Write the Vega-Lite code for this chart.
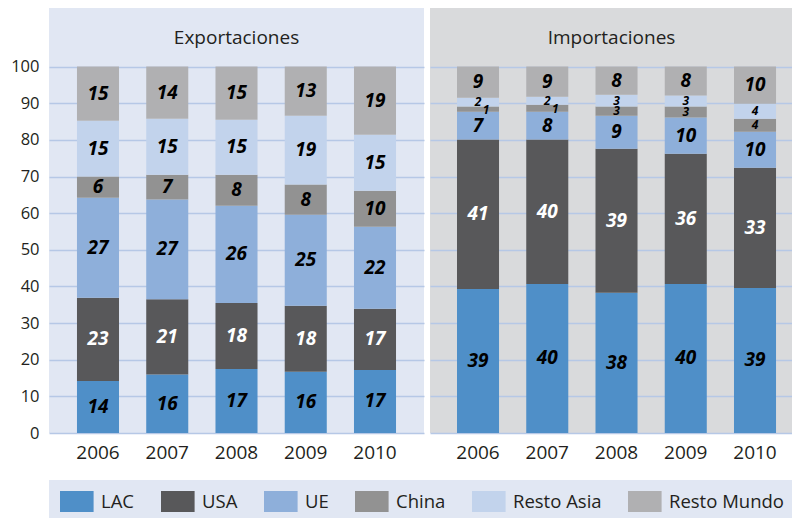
{
  "$schema": "https://vega.github.io/schema/vega-lite/v6.json",
  "background": "white",
  "padding": {"left": 10, "top": 8, "right": 0, "bottom": 0},
  "spacing": 6,
  "config": {
    "view": {"stroke": null},
    "font": "Open Sans",
    "axis": {"labelFont": "Open Sans", "labelColor": "#231F20"}
  },
  "data": {
    "values": [
      {"flujo": "Exportaciones", "anio": "2006", "region": "LAC", "v": 14.2, "lab": "14"},
      {"flujo": "Exportaciones", "anio": "2006", "region": "USA", "v": 22.7, "lab": "23"},
      {"flujo": "Exportaciones", "anio": "2006", "region": "UE", "v": 27.3, "lab": "27"},
      {"flujo": "Exportaciones", "anio": "2006", "region": "China", "v": 5.8, "lab": "6"},
      {"flujo": "Exportaciones", "anio": "2006", "region": "Resto Asia", "v": 15.2, "lab": "15"},
      {"flujo": "Exportaciones", "anio": "2006", "region": "Resto Mundo", "v": 14.8, "lab": "15"},
      {"flujo": "Exportaciones", "anio": "2007", "region": "LAC", "v": 16.0, "lab": "16"},
      {"flujo": "Exportaciones", "anio": "2007", "region": "USA", "v": 20.5, "lab": "21"},
      {"flujo": "Exportaciones", "anio": "2007", "region": "UE", "v": 27.2, "lab": "27"},
      {"flujo": "Exportaciones", "anio": "2007", "region": "China", "v": 6.8, "lab": "7"},
      {"flujo": "Exportaciones", "anio": "2007", "region": "Resto Asia", "v": 15.3, "lab": "15"},
      {"flujo": "Exportaciones", "anio": "2007", "region": "Resto Mundo", "v": 14.2, "lab": "14"},
      {"flujo": "Exportaciones", "anio": "2008", "region": "LAC", "v": 17.5, "lab": "17"},
      {"flujo": "Exportaciones", "anio": "2008", "region": "USA", "v": 18.0, "lab": "18"},
      {"flujo": "Exportaciones", "anio": "2008", "region": "UE", "v": 26.5, "lab": "26"},
      {"flujo": "Exportaciones", "anio": "2008", "region": "China", "v": 8.5, "lab": "8"},
      {"flujo": "Exportaciones", "anio": "2008", "region": "Resto Asia", "v": 15.0, "lab": "15"},
      {"flujo": "Exportaciones", "anio": "2008", "region": "Resto Mundo", "v": 14.5, "lab": "15"},
      {"flujo": "Exportaciones", "anio": "2009", "region": "LAC", "v": 16.7, "lab": "16"},
      {"flujo": "Exportaciones", "anio": "2009", "region": "USA", "v": 18.0, "lab": "18"},
      {"flujo": "Exportaciones", "anio": "2009", "region": "UE", "v": 24.9, "lab": "25"},
      {"flujo": "Exportaciones", "anio": "2009", "region": "China", "v": 8.2, "lab": "8"},
      {"flujo": "Exportaciones", "anio": "2009", "region": "Resto Asia", "v": 18.8, "lab": "19"},
      {"flujo": "Exportaciones", "anio": "2009", "region": "Resto Mundo", "v": 13.4, "lab": "13"},
      {"flujo": "Exportaciones", "anio": "2010", "region": "LAC", "v": 17.2, "lab": "17"},
      {"flujo": "Exportaciones", "anio": "2010", "region": "USA", "v": 16.7, "lab": "17"},
      {"flujo": "Exportaciones", "anio": "2010", "region": "UE", "v": 22.4, "lab": "22"},
      {"flujo": "Exportaciones", "anio": "2010", "region": "China", "v": 9.8, "lab": "10"},
      {"flujo": "Exportaciones", "anio": "2010", "region": "Resto Asia", "v": 15.3, "lab": "15"},
      {"flujo": "Exportaciones", "anio": "2010", "region": "Resto Mundo", "v": 18.6, "lab": "19"},
      {"flujo": "Importaciones", "anio": "2006", "region": "LAC", "v": 39.3, "lab": "39"},
      {"flujo": "Importaciones", "anio": "2006", "region": "USA", "v": 40.8, "lab": "41"},
      {"flujo": "Importaciones", "anio": "2006", "region": "UE", "v": 7.6, "lab": "7"},
      {"flujo": "Importaciones", "anio": "2006", "region": "China", "v": 1.4, "lab": "1"},
      {"flujo": "Importaciones", "anio": "2006", "region": "Resto Asia", "v": 2.4, "lab": "2"},
      {"flujo": "Importaciones", "anio": "2006", "region": "Resto Mundo", "v": 8.5, "lab": "9"},
      {"flujo": "Importaciones", "anio": "2007", "region": "LAC", "v": 40.7, "lab": "40"},
      {"flujo": "Importaciones", "anio": "2007", "region": "USA", "v": 39.4, "lab": "40"},
      {"flujo": "Importaciones", "anio": "2007", "region": "UE", "v": 7.6, "lab": "8"},
      {"flujo": "Importaciones", "anio": "2007", "region": "China", "v": 1.9, "lab": "1"},
      {"flujo": "Importaciones", "anio": "2007", "region": "Resto Asia", "v": 2.2, "lab": "2"},
      {"flujo": "Importaciones", "anio": "2007", "region": "Resto Mundo", "v": 8.2, "lab": "9"},
      {"flujo": "Importaciones", "anio": "2008", "region": "LAC", "v": 38.3, "lab": "38"},
      {"flujo": "Importaciones", "anio": "2008", "region": "USA", "v": 39.3, "lab": "39"},
      {"flujo": "Importaciones", "anio": "2008", "region": "UE", "v": 9.0, "lab": "9"},
      {"flujo": "Importaciones", "anio": "2008", "region": "China", "v": 2.5, "lab": "3"},
      {"flujo": "Importaciones", "anio": "2008", "region": "Resto Asia", "v": 3.2, "lab": "3"},
      {"flujo": "Importaciones", "anio": "2008", "region": "Resto Mundo", "v": 7.7, "lab": "8"},
      {"flujo": "Importaciones", "anio": "2009", "region": "LAC", "v": 40.7, "lab": "40"},
      {"flujo": "Importaciones", "anio": "2009", "region": "USA", "v": 35.5, "lab": "36"},
      {"flujo": "Importaciones", "anio": "2009", "region": "UE", "v": 9.9, "lab": "10"},
      {"flujo": "Importaciones", "anio": "2009", "region": "China", "v": 3.0, "lab": "3"},
      {"flujo": "Importaciones", "anio": "2009", "region": "Resto Asia", "v": 3.0, "lab": "3"},
      {"flujo": "Importaciones", "anio": "2009", "region": "Resto Mundo", "v": 7.9, "lab": "8"},
      {"flujo": "Importaciones", "anio": "2010", "region": "LAC", "v": 39.6, "lab": "39"},
      {"flujo": "Importaciones", "anio": "2010", "region": "USA", "v": 32.8, "lab": "33"},
      {"flujo": "Importaciones", "anio": "2010", "region": "UE", "v": 9.8, "lab": "10"},
      {"flujo": "Importaciones", "anio": "2010", "region": "China", "v": 3.6, "lab": "4"},
      {"flujo": "Importaciones", "anio": "2010", "region": "Resto Asia", "v": 4.1, "lab": "4"},
      {"flujo": "Importaciones", "anio": "2010", "region": "Resto Mundo", "v": 10.1, "lab": "10"}
    ]
  },
  "resolve": {"scale": {"x": "independent", "y": "independent", "color": "shared"}},
  "hconcat": [
    {
      "width": 375,
      "height": 425,
      "view": {"fill": "#E1E7F3", "stroke": null},
      "title": {"text": "Exportaciones", "offset": -49, "baseline": "middle", "fontSize": 19, "fontWeight": "normal", "color": "#231F20", "font": "Open Sans"},
      "transform": [
        {"filter": "datum.flujo === 'Exportaciones'"},
        {"calculate": "indexof(['LAC','USA','UE','China','Resto Asia','Resto Mundo'], datum.region)", "as": "ord"},
        {"stack": "v", "groupby": ["anio"], "sort": [{"field": "ord", "order": "ascending"}], "as": ["v0", "v1"]},
        {"calculate": "(datum.v0 + datum.v1) / 2", "as": "mid"}
      ],
      "encoding": {
        "x": {
          "field": "anio", "type": "ordinal",
          "scale": {"paddingInner": 0.393, "paddingOuter": 0.404},
          "axis": {"title": null, "labelAngle": 0, "ticks": false, "domain": false, "labelFontSize": 19, "labelPadding": 10, "grid": false}
        }
      },
      "layer": [
        {
          "mark": {"type": "bar"},
          "encoding": {
            "y": {
              "field": "v0", "type": "quantitative",
              "scale": {"domain": [0, 116], "nice": false, "zero": true},
              "axis": {"title": null, "values": [0, 10, 20, 30, 40, 50, 60, 70, 80, 90, 100], "domain": false, "ticks": false, "labelFontSize": 16.5, "labelPadding": 10, "grid": true, "gridColor": "#B6C8E6", "gridWidth": 1.5}
            },
            "y2": {"field": "v1"},
            "color": {
              "field": "region", "type": "nominal",
              "scale": {"domain": ["LAC", "USA", "UE", "China", "Resto Asia", "Resto Mundo"], "range": ["#4F8FC8", "#58585A", "#8EAFDA", "#929292", "#C2D3EC", "#B0B0B2"]},
              "legend": {"orient": "none", "legendX": 0, "legendY": 472, "direction": "horizontal", "title": null, "fillColor": "#E1E7F3", "padding": 11, "symbolType": "M-1,-1H2.2V1H-1Z", "symbolSize": 441, "symbolStrokeWidth": 0, "symbolOpacity": 1, "labelFontSize": 18.5, "labelFont": "Open Sans", "labelColor": "#231F20", "labelOffset": 20, "columnPadding": 26}
            }
          }
        },
        {
          "mark": {"type": "text", "fontStyle": "italic", "fontWeight": "bold", "font": "Open Sans"},
          "encoding": {
            "y": {"field": "mid", "type": "quantitative"},
            "text": {"field": "lab"},
            "color": {"condition": {"test": "datum.region === 'USA'", "value": "white"}, "value": "black"},
            "size": {"value": 19}
          }
        }
      ]
    },
    {
      "width": 363,
      "height": 425,
      "view": {"fill": "#D9DADC", "stroke": null},
      "title": {"text": "Importaciones", "offset": -49, "baseline": "middle", "fontSize": 19, "fontWeight": "normal", "color": "#231F20", "font": "Open Sans"},
      "transform": [
        {"filter": "datum.flujo === 'Importaciones'"},
        {"calculate": "indexof(['LAC','USA','UE','China','Resto Asia','Resto Mundo'], datum.region)", "as": "ord"},
        {"stack": "v", "groupby": ["anio"], "sort": [{"field": "ord", "order": "ascending"}], "as": ["v0", "v1"]},
        {"calculate": "(datum.v0 + datum.v1) / 2", "as": "mid"}
      ],
      "encoding": {
        "x": {
          "field": "anio", "type": "ordinal",
          "scale": {"paddingInner": 0.393, "paddingOuter": 0.3175, "align": 0.614},
          "axis": {"title": null, "labelAngle": 0, "ticks": false, "domain": false, "labelFontSize": 19, "labelPadding": 10, "grid": false}
        }
      },
      "layer": [
        {
          "mark": {"type": "bar"},
          "encoding": {
            "y": {
              "field": "v0", "type": "quantitative",
              "scale": {"domain": [0, 116], "nice": false, "zero": true},
              "axis": {"title": null, "values": [0, 10, 20, 30, 40, 50, 60, 70, 80, 90, 100], "domain": false, "ticks": false, "labels": false, "labelPadding": 0, "grid": true, "gridColor": "#B6C8E6", "gridWidth": 1.5}
            },
            "y2": {"field": "v1"},
            "color": {
              "field": "region", "type": "nominal",
              "scale": {"domain": ["LAC", "USA", "UE", "China", "Resto Asia", "Resto Mundo"], "range": ["#4F8FC8", "#58585A", "#8EAFDA", "#929292", "#C2D3EC", "#B0B0B2"]},
              "legend": {"orient": "none", "legendX": 0, "legendY": 472, "direction": "horizontal", "title": null, "fillColor": "#E1E7F3", "padding": 11, "symbolType": "M-1,-1H2.2V1H-1Z", "symbolSize": 441, "symbolStrokeWidth": 0, "symbolOpacity": 1, "labelFontSize": 18.5, "labelFont": "Open Sans", "labelColor": "#231F20", "labelOffset": 20, "columnPadding": 26}
            }
          }
        },
        {
          "transform": [{"filter": "datum.v >= 5"}],
          "mark": {"type": "text", "fontStyle": "italic", "fontWeight": "bold", "font": "Open Sans"},
          "encoding": {
            "y": {"field": "mid", "type": "quantitative"},
            "text": {"field": "lab"},
            "color": {"condition": {"test": "datum.region === 'USA'", "value": "white"}, "value": "black"},
            "size": {"value": 19}
          }
        },
        {
          "transform": [{"filter": "datum.v < 5 && !(datum.region === 'China' && datum.v < 2)"}],
          "mark": {"type": "text", "fontStyle": "italic", "fontWeight": "bold", "font": "Open Sans", "fontSize": 12},
          "encoding": {
            "y": {"field": "mid", "type": "quantitative"},
            "text": {"field": "lab"},
            "color": {"value": "black"}
          }
        },
        {
          "transform": [{"filter": "datum.region === 'China' && datum.v < 2"}],
          "mark": {"type": "text", "fontStyle": "italic", "fontWeight": "bold", "font": "Open Sans", "fontSize": 12, "dx": 8, "dy": 1},
          "encoding": {
            "y": {"field": "mid", "type": "quantitative"},
            "text": {"field": "lab"},
            "color": {"value": "black"}
          }
        }
      ]
    }
  ]
}
